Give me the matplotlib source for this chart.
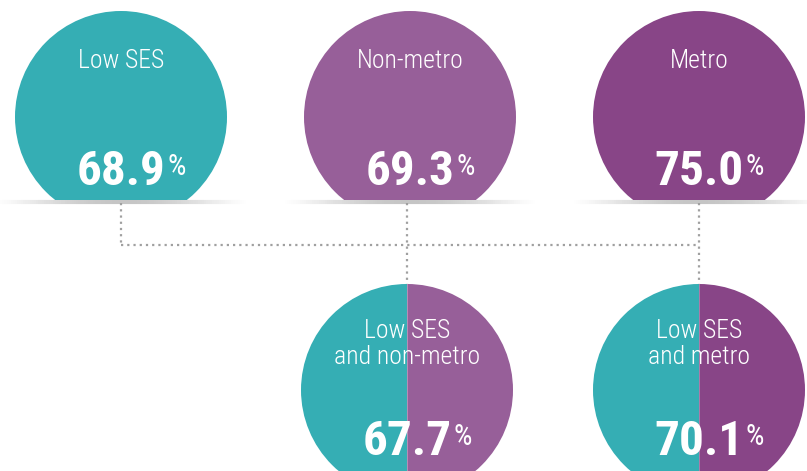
import numpy as np
import matplotlib
matplotlib.use("Agg")
import matplotlib.pyplot as plt
from matplotlib.patches import Circle, Wedge, Rectangle
from matplotlib.collections import LineCollection

# dati
top_labels = ["Low SES", "Non-metro", "Metro"]
top_values = [68.9, 69.3, 75.0]
bottom_labels = ["Low SES\nand non-metro", "Low SES\nand metro"]
bottom_values = [67.7, 70.1]

teal = "#35aeb4"
purple_light = "#975f99"
purple_dark = "#884587"
top_colors = [teal, purple_light, purple_dark]
bottom_colors = [(teal, purple_light), (teal, purple_dark)]

W, H = 807, 471
fig = plt.figure(figsize=(W / 100, H / 100), dpi=100)
ax = fig.add_axes([0, 0, 1, 1])
ax.set_xlim(0, W)
ax.set_ylim(H, 0)
ax.set_aspect("equal")
ax.axis("off")

font_lbl = ["Roboto Condensed", "DejaVu Sans"]
R = 106
top_cx = [121, 410, 699]
top_cy = 117
cut_y = 200
bot_cx = [407, 699]
bot_cy = 390

dot_style = dict(color="#a0a0a0", lw=1.6, linestyle=(0, (1, 1.8)), zorder=1)


def shadow(x0, x1, y):
    xs = np.linspace(x0, x1, 120)
    segs = [[(xs[i], y), (xs[i + 1], y)] for i in range(len(xs) - 1)]
    mid = (xs[:-1] + xs[1:]) / 2
    t = (mid - x0) / (x1 - x0)
    a = 0.5 * np.sin(np.pi * t) ** 1.2
    cols = [(0.55, 0.55, 0.55, v) for v in a]
    ax.add_collection(LineCollection(segs, colors=cols, linewidths=3, zorder=1))


def add_number(x, y, val):
    t = ax.text(x, y, f"{val:.1f}", color="white", fontsize=35.5, fontweight="bold",
                family=font_lbl, ha="center", va="baseline", zorder=5)
    ax.annotate("%", xy=(1, 1), xycoords=t, xytext=(1.5, -3), textcoords="offset points",
                color="white", fontsize=21, fontweight="normal", family=font_lbl,
                ha="left", va="top", zorder=5)


# cerchi superiori
for cx, lab, val, col in zip(top_cx, top_labels, top_values, top_colors):
    shadow(cx - 125, cx + 125, cut_y + 1.5)
    c = Circle((cx, top_cy), R, facecolor=col, edgecolor="none", zorder=2)
    ax.add_patch(c)
    clip = Rectangle((0, 0), W, cut_y, transform=ax.transData)
    c.set_clip_path(clip)
    ax.text(cx, 68, lab, color="white", fontsize=18.5, fontweight="light", family=font_lbl,
            ha="center", va="baseline", zorder=5)
    add_number(cx, 185, val)

# linee tratteggiate
ax.plot([top_cx[0], top_cx[0]], [cut_y + 3, 245], **dot_style)
ax.plot([top_cx[0], top_cx[2]], [245, 245], **dot_style)
ax.plot([bot_cx[0], bot_cx[0]], [cut_y + 3, bot_cy - R], **dot_style)
ax.plot([top_cx[2], top_cx[2]], [cut_y + 3, bot_cy - R], **dot_style)

# cerchi inferiori (metà e metà)
for cx, lab, val, (c1, c2) in zip(bot_cx, bottom_labels, bottom_values, bottom_colors):
    w1 = Wedge((cx, bot_cy), R, 90, 270, facecolor=c1, edgecolor="none", zorder=2)
    w2 = Wedge((cx, bot_cy), R, 270, 90, facecolor=c2, edgecolor="none", zorder=2)
    ax.add_patch(w1)
    ax.add_patch(w2)
    ax.plot([cx, cx], [bot_cy - R, H], color="white", lw=0.6, alpha=0.35, zorder=3)
    ax.text(cx, 364, lab, color="white", fontsize=18.5, fontweight="light", family=font_lbl,
            ha="center", va="baseline", linespacing=1.1, zorder=5)
    add_number(cx, 455, val)

fig.savefig("out.png", dpi=100)
